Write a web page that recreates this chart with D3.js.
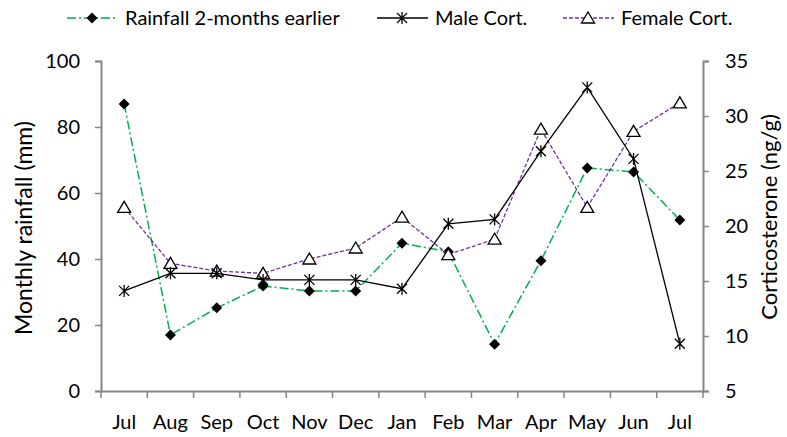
<!DOCTYPE html>
<html>
<head>
<meta charset="utf-8">
<script src="https://cdn.jsdelivr.net/npm/d3@7"></script>
<style>
  body { margin: 0; background: #fff; }
  svg { font-family: Lato, "Open Sans", sans-serif; }
</style>
</head>
<body>
<div class="chart"></div>
<script>
var width = 787;
var height = 437;
var margin = {top: 61, right: 84, bottom: 46, left: 101};

var months = ["Jul","Aug","Sep","Oct","Nov","Dec","Jan","Feb","Mar","Apr","May","Jun","Jul"];
var rainfall = [87.0, 17.0, 25.2, 31.8, 30.3, 30.3, 44.8, 42.2, 14.2, 39.5, 67.6, 66.4, 51.8];
var maleCort = [14.1, 15.7, 15.7, 15.1, 15.1, 15.1, 14.3, 20.2, 20.6, 26.8, 32.6, 26.1, 9.3];
var femaleCort = [21.7, 16.6, 15.9, 15.7, 17.0, 18.0, 20.8, 17.4, 18.8, 28.8, 21.7, 28.6, 31.2];
var leftTicks = [0, 20, 40, 60, 80, 100];
var rightTicks = [5, 10, 15, 20, 25, 30, 35];

var green = "#00b050";
var purple = "#7030a0";
var axisGray = "#868686";

var svg = d3.select(".chart").append("svg")
  .attr("width", width)
  .attr("height", height);

var x = d3.scaleBand()
  .domain(d3.range(months.length))
  .range([margin.left, width - margin.right]);

var yL = d3.scaleLinear().domain([0, 100]).range([height - margin.bottom, margin.top]);
var yR = d3.scaleLinear().domain([5, 35]).range([height - margin.bottom, margin.top]);

function cx(i) { return x(i) + x.bandwidth() / 2; }

// axes
var gL = svg.append("g")
  .attr("transform", "translate(" + margin.left + ",0)")
  .call(d3.axisLeft(yL).tickValues(leftTicks).tickSize(6).tickPadding(15));
var gR = svg.append("g")
  .attr("transform", "translate(" + (width - margin.right) + ",0)")
  .call(d3.axisRight(yR).tickValues(rightTicks).tickSize(6).tickPadding(16));
var gX = svg.append("g")
  .attr("transform", "translate(0," + (height - margin.bottom) + ")")
  .call(d3.axisBottom(x).tickFormat(function(i) { return months[i]; }).tickSize(0).tickPadding(24));

// x ticks at category boundaries
gX.selectAll(".bound")
  .data(d3.range(months.length + 1))
  .enter().append("line")
    .attr("class", "bound")
    .attr("x1", function(i) { return margin.left + i * x.step(); })
    .attr("x2", function(i) { return margin.left + i * x.step(); })
    .attr("y1", 0).attr("y2", 7);

[gL, gR, gX].forEach(function(g) {
  g.selectAll("path.domain").attr("stroke", axisGray).attr("stroke-width", 2);
  g.selectAll("line").attr("stroke", axisGray).attr("stroke-width", 1.5);
  g.selectAll("text").attr("fill", "#000").style("font-size", "20px").style("font-family", "Lato, sans-serif");
});

// axis titles
svg.append("text")
  .attr("transform", "translate(32,228) rotate(-90)")
  .attr("text-anchor", "middle")
  .style("font-size", "23px")
  .text("Monthly rainfall (mm)");
svg.append("text")
  .attr("transform", "translate(777,217) rotate(-90)")
  .attr("text-anchor", "middle")
  .style("font-size", "22px")
  .text("Corticosterone (ng/g)");

// markers
function diamond(g) {
  g.append("path").attr("d", "M0,-5.5L5.5,0L0,5.5L-5.5,0Z").attr("fill", "#000");
}
function star(g) {
  g.append("path").attr("d", "M-5,-5L5,5M-5,5L5,-5M0,-6L0,6")
    .attr("stroke", "#000").attr("stroke-width", 1.3).attr("fill", "none");
}
function triangle(g) {
  g.append("path").attr("d", "M0,-6L6.5,5L-6.5,5Z")
    .attr("fill", "#fff").attr("stroke", "#000").attr("stroke-width", 1.3);
}

var series = [
  {name: "Rainfall 2-months earlier", values: rainfall, y: yL, color: green, dash: "9,3,2,3", width: 1.5, marker: diamond, lx: 67},
  {name: "Female Cort.", values: femaleCort, y: yR, color: purple, dash: "4,2", width: 1.3, marker: triangle, lx: 563},
  {name: "Male Cort.", values: maleCort, y: yR, color: "#000", dash: null, width: 1.3, marker: star, lx: 377}
];

series.forEach(function(s) {
  var line = d3.line()
    .x(function(d, i) { return cx(i); })
    .y(function(d) { return s.y(d); });

  svg.append("path")
    .datum(s.values)
    .attr("fill", "none")
    .attr("stroke", s.color)
    .attr("stroke-width", s.width)
    .attr("stroke-dasharray", s.dash)
    .attr("d", line);

  svg.selectAll(null)
    .data(s.values)
    .enter().append("g")
      .attr("transform", function(d, i) { return "translate(" + cx(i) + "," + s.y(d) + ")"; })
      .each(function() { s.marker(d3.select(this)); });

  // legend
  var lg = svg.append("g").attr("transform", "translate(" + s.lx + ",18)");
  lg.append("line")
    .attr("x1", 0).attr("x2", 51)
    .attr("stroke", s.color).attr("stroke-width", s.width)
    .attr("stroke-dasharray", s.dash);
  var m = lg.append("g").attr("transform", "translate(25,0)");
  s.marker(m);
  lg.append("text")
    .attr("x", 58).attr("y", 7)
    .style("font-size", "20px")
    .text(s.name);
});
</script>
</body>
</html>
